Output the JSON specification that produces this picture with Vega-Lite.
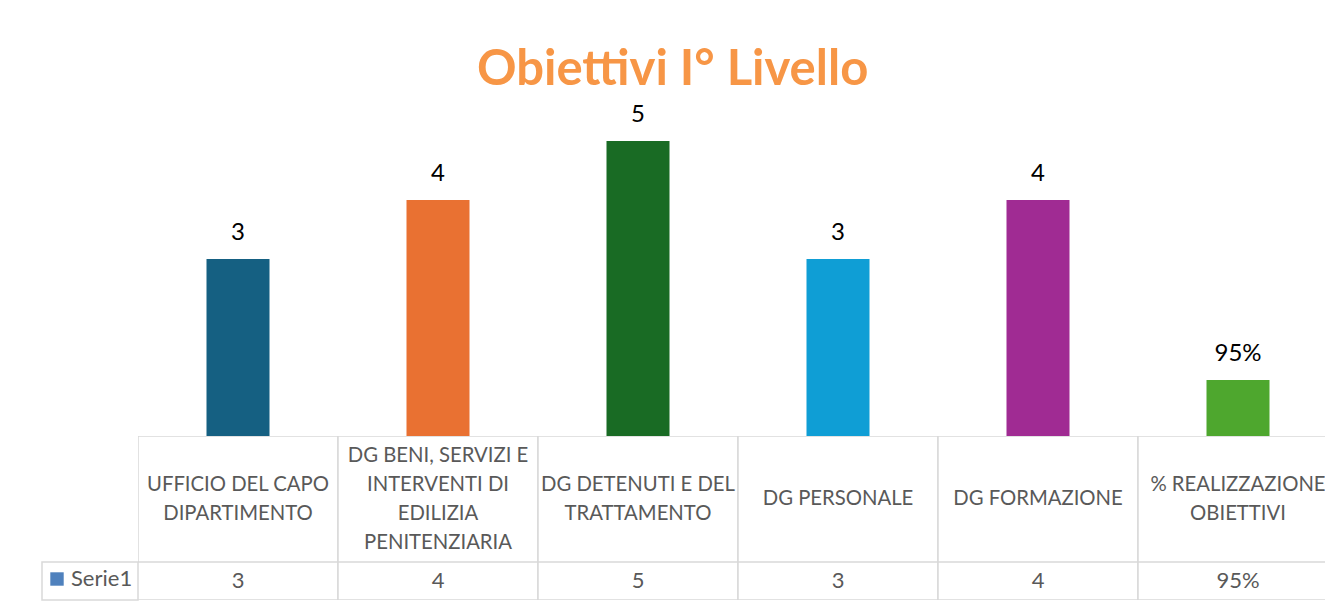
{
  "$schema": "https://vega.github.io/schema/vega-lite/v6.json",
  "background": "white",
  "padding": {"left": 41, "top": 46, "right": 0, "bottom": 0},
  "datasets": {
    "d": [
      {"cat": "UFFICIO DEL CAPO DIPARTIMENTO", "head": "UFFICIO DEL CAPO\nDIPARTIMENTO", "value": 3, "label": "3"},
      {"cat": "DG BENI, SERVIZI E INTERVENTI DI EDILIZIA PENITENZIARIA", "head": "DG BENI, SERVIZI E\nINTERVENTI DI\nEDILIZIA\nPENITENZIARIA", "value": 4, "label": "4"},
      {"cat": "DG DETENUTI E DEL TRATTAMENTO", "head": "DG DETENUTI E DEL\nTRATTAMENTO", "value": 5, "label": "5"},
      {"cat": "DG PERSONALE", "head": "DG PERSONALE", "value": 3, "label": "3"},
      {"cat": "DG FORMAZIONE", "head": "DG FORMAZIONE", "value": 4, "label": "4"},
      {"cat": "% REALIZZAZIONE OBIETTIVI", "head": "% REALIZZAZIONE\nOBIETTIVI", "value": 0.95, "label": "95%"}
    ]
  },
  "title": {
    "text": "Obiettivi I° Livello",
    "font": "Lato",
    "fontSize": 49,
    "fontWeight": "bold",
    "color": "#F79646",
    "anchor": "middle",
    "dx": -11,
    "offset": 8
  },
  "columns": 2,
  "spacing": 0,
  "align": "each",
  "bounds": "flush",
  "resolve": {"scale": {"color": "independent", "x": "independent", "y": "independent"}, "legend": {"color": "independent"}},
  "concat": [
    {
      "width": 96,
      "height": 295,
      "data": {"values": [{}]},
      "mark": {"type": "rect", "opacity": 0},
      "encoding": {}
    },
    {
      "width": 1188,
      "height": 295,
      "data": {"name": "d"},
      "encoding": {
        "x": {"field": "cat", "type": "nominal", "sort": null, "scale": {"range": [0, 1200], "paddingInner": 0, "paddingOuter": 0}, "axis": null},
        "y": {"field": "value", "type": "quantitative", "scale": {"domain": [0, 5], "nice": false}, "axis": null}
      },
      "layer": [
        {
          "mark": {"type": "bar", "width": {"band": 0.315}, "clip": true},
          "encoding": {
            "color": {
              "field": "cat", "type": "nominal", "sort": null, "legend": null,
              "scale": {
                "domain": ["UFFICIO DEL CAPO DIPARTIMENTO", "DG BENI, SERVIZI E INTERVENTI DI EDILIZIA PENITENZIARIA", "DG DETENUTI E DEL TRATTAMENTO", "DG PERSONALE", "DG FORMAZIONE", "% REALIZZAZIONE OBIETTIVI"],
                "range": ["#156082", "#E97132", "#196B24", "#0F9ED5", "#A02B93", "#4EA72E"]
              }
            }
          }
        },
        {
          "mark": {"type": "text", "font": "Lato", "fontSize": 24, "color": "#000000", "baseline": "alphabetic", "dy": -19},
          "encoding": {"text": {"field": "label"}}
        }
      ]
    },
    {
      "width": 96,
      "height": 126,
      "data": {"values": [{}]},
      "mark": {"type": "rect", "opacity": 0},
      "encoding": {}
    },
    {
      "width": 1188,
      "height": 126,
      "data": {"name": "d"},
      "encoding": {
        "x": {"field": "cat", "type": "nominal", "sort": null, "scale": {"range": [0, 1200], "paddingInner": 0, "paddingOuter": 0}, "axis": null},
        "text": {"field": "head"}
      },
      "layer": [
        {"mark": {"type": "rect", "fill": "#ffffff", "stroke": "#d9d9d9", "strokeWidth": 1.5, "clip": true}, "encoding": {"text": null}},
        {
          "transform": [{"filter": "length(split(datum.head, '\\n')) == 1"}],
          "mark": {"type": "text", "font": "Lato", "fontSize": 20.3, "color": "#595959", "baseline": "middle", "lineBreak": "\n", "lineHeight": 29}
        },
        {
          "transform": [{"filter": "length(split(datum.head, '\\n')) == 2"}],
          "mark": {"type": "text", "font": "Lato", "fontSize": 20.3, "color": "#595959", "baseline": "middle", "lineBreak": "\n", "lineHeight": 29, "dy": -14.5}
        },
        {
          "transform": [{"filter": "length(split(datum.head, '\\n')) == 4"}],
          "mark": {"type": "text", "font": "Lato", "fontSize": 20.3, "color": "#595959", "baseline": "middle", "lineBreak": "\n", "lineHeight": 29, "dy": -43.5}
        }
      ]
    },
    {
      "width": 96,
      "height": 38,
      "data": {"values": [{"serie": "Serie1"}]},
      "layer": [
        {"mark": {"type": "rect", "fill": "#ffffff", "stroke": "#d9d9d9", "strokeWidth": 1.5}, "encoding": {}},
        {
          "mark": {"type": "point", "filled": true, "opacity": 0, "shape": "square"},
          "encoding": {
            "color": {
              "field": "serie", "type": "nominal",
              "scale": {"domain": ["Serie1"], "range": ["#4F81BD"]},
              "legend": {
                "orient": "none", "legendX": 4, "legendY": 6, "title": null, "padding": 0,
                "symbolType": "square", "symbolSize": 180, "symbolOpacity": 1, "symbolStrokeWidth": 0,
                "labelFont": "Lato", "labelFontSize": 22, "labelColor": "#595959", "labelOffset": 3
              }
            }
          }
        }
      ]
    },
    {
      "width": 1188,
      "height": 38,
      "data": {"name": "d"},
      "encoding": {
        "x": {"field": "cat", "type": "nominal", "sort": null, "scale": {"range": [0, 1200], "paddingInner": 0, "paddingOuter": 0}, "axis": null}
      },
      "layer": [
        {"mark": {"type": "rect", "fill": "#ffffff", "stroke": "#d9d9d9", "strokeWidth": 1.5, "clip": true}, "encoding": {}},
        {
          "mark": {"type": "text", "font": "Lato", "fontSize": 22, "color": "#595959", "baseline": "middle"},
          "encoding": {"text": {"field": "label"}}
        }
      ]
    }
  ],
  "config": {"view": {"stroke": null}, "font": "Lato"}
}
